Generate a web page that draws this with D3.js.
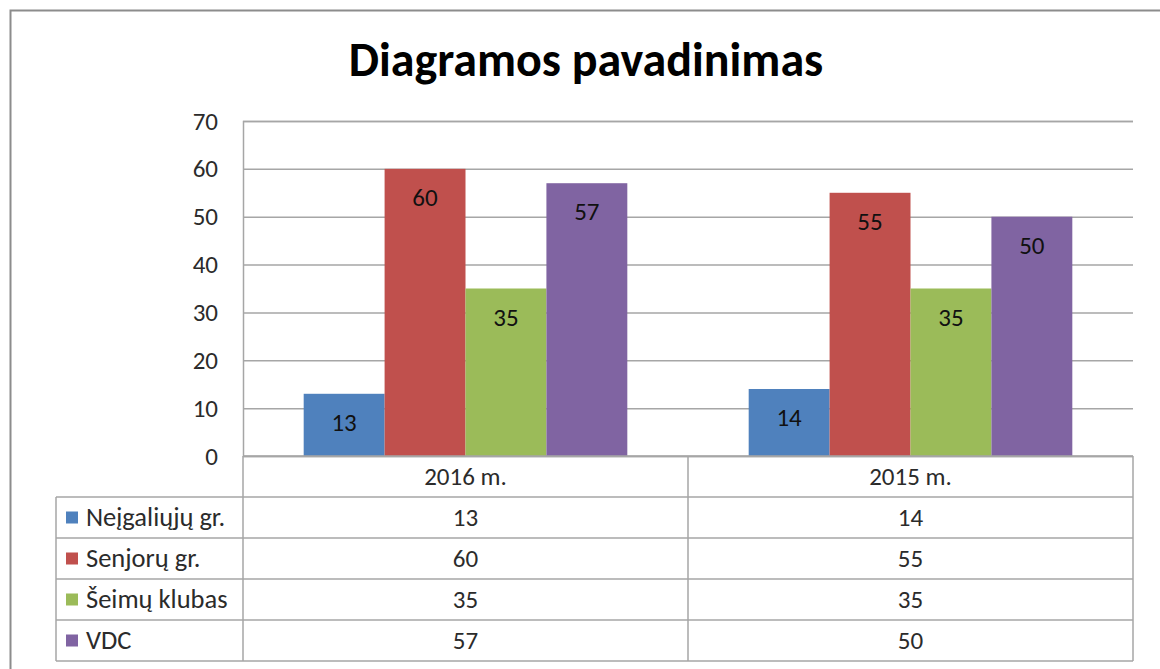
<!DOCTYPE html>
<html>
<head>
<meta charset="utf-8">
<script src="https://cdn.jsdelivr.net/npm/d3@7"></script>
<style>
  body { margin: 0; background: #fff; }
  svg text { font-family: Carlito, Lato, "Noto Sans", sans-serif; }
</style>
</head>
<body>
<svg id="chart" width="1160" height="669"></svg>
<script>
// Chart data
const categories = ["2016 m.", "2015 m."];
const seriesNames = ["Neįgaliųjų gr.", "Senjorų gr.", "Šeimų klubas", "VDC"];
const neigaliuju = [13, 14];
const senjoru = [60, 55];
const seimu = [35, 35];
const vdc = [57, 50];
const yTicks = [0, 10, 20, 30, 40, 50, 60, 70];

const seriesValues = [neigaliuju, senjoru, seimu, vdc];
const colors = ["#4F81BD", "#C0504D", "#9BBB59", "#8064A2"];

// layout
var plot = { left: 243, right: 1133, top: 121, bottom: 456 };
var rowH = 41;
var legendLeft = 56;
var gridColor = "#a6a6a6";
var fs = "25px";
var textColor = "#2b2b2b";

var svg = d3.select("#chart");

// outer chart border
svg.append("rect")
    .attr("x", 10.5).attr("y", 10.5)
    .attr("width", 1170).attr("height", 680)
    .attr("fill", "#fff")
    .attr("stroke", "#8c8c8c")
    .attr("stroke-width", 2);

// title
svg.append("text")
    .attr("x", 586)
    .attr("y", 76)
    .attr("text-anchor", "middle")
    .style("font-size", "48px")
    .style("font-weight", "bold")
    .attr("fill", "#000")
    .text("Diagramos pavadinimas");

var x = d3.scaleBand()
    .domain(categories)
    .range([plot.left, plot.right]);

var xSub = d3.scaleBand()
    .domain(seriesNames)
    .range([0, x.bandwidth()])
    .paddingInner(0)
    .paddingOuter(0.75);

var y = d3.scaleLinear()
    .domain([0, 70])
    .range([plot.bottom, plot.top]);

// gridlines + y labels
var yAxis = svg.append("g")
    .attr("transform", "translate(" + plot.left + ",0)")
    .call(d3.axisLeft(y)
        .tickValues(yTicks)
        .tickSize(-(plot.right - plot.left))
        .tickPadding(25));
yAxis.select(".domain").attr("stroke", gridColor).attr("stroke-width", 1.5);
yAxis.selectAll(".tick line").attr("stroke", gridColor).attr("stroke-width", 1.5);
yAxis.selectAll(".tick text")
    .style("font-size", fs)
    .attr("fill", textColor);

// bars
var rows = [];
seriesNames.forEach((s, i) => {
    categories.forEach((c, j) => {
        rows.push({ series: s, cat: c, value: seriesValues[i][j], color: colors[i] });
    });
});

svg.selectAll(".bar")
    .data(rows)
    .enter()
    .append("rect")
        .attr("class", "bar")
        .attr("x", d => x(d.cat) + xSub(d.series))
        .attr("y", d => y(d.value))
        .attr("width", xSub.bandwidth())
        .attr("height", d => y(0) - y(d.value))
        .attr("fill", d => d.color);

svg.selectAll(".bar-label")
    .data(rows)
    .enter()
    .append("text")
        .attr("class", "bar-label")
        .attr("x", d => x(d.cat) + xSub(d.series) + xSub.bandwidth() / 2)
        .attr("y", d => y(d.value) + 37)
        .attr("text-anchor", "middle")
        .style("font-size", fs)
        .attr("fill", "#111")
        .text(d => d.value);

// data table
var table = svg.append("g").attr("stroke", gridColor).attr("stroke-width", 1.5);
var tableBottom = plot.bottom + rowH * (seriesNames.length + 1);

// horizontal lines
table.append("line")
    .attr("x1", plot.left).attr("x2", plot.right)
    .attr("y1", plot.bottom).attr("y2", plot.bottom);
for (var r = 1; r <= seriesNames.length + 1; r++) {
    table.append("line")
        .attr("x1", legendLeft).attr("x2", plot.right)
        .attr("y1", plot.bottom + rowH * r).attr("y2", plot.bottom + rowH * r);
}
// vertical lines
table.append("line")
    .attr("x1", legendLeft).attr("x2", legendLeft)
    .attr("y1", plot.bottom + rowH).attr("y2", tableBottom);
[plot.left, x(categories[1]), plot.right].forEach(vx => {
    table.append("line")
        .attr("x1", vx).attr("x2", vx)
        .attr("y1", plot.bottom).attr("y2", tableBottom);
});

// category headers
svg.selectAll(".cat-label")
    .data(categories)
    .enter()
    .append("text")
        .attr("x", d => x(d) + x.bandwidth() / 2)
        .attr("y", plot.bottom + rowH / 2 + 8)
        .attr("text-anchor", "middle")
        .style("font-size", fs)
        .attr("fill", textColor)
        .text(d => d);

// legend column + values
seriesNames.forEach((s, i) => {
    var cy = plot.bottom + rowH * (i + 1) + rowH / 2;
    svg.append("rect")
        .attr("x", 66).attr("y", cy - 6)
        .attr("width", 12).attr("height", 12)
        .attr("fill", colors[i]);
    svg.append("text")
        .attr("x", 86).attr("y", cy + 8)
        .style("font-size", "26.5px")
        .attr("fill", textColor)
        .text(s);
    categories.forEach((c, j) => {
        svg.append("text")
            .attr("x", x(c) + x.bandwidth() / 2)
            .attr("y", cy + 8)
            .attr("text-anchor", "middle")
            .style("font-size", fs)
            .attr("fill", textColor)
            .text(seriesValues[i][j]);
    });
});
</script>
</body>
</html>
